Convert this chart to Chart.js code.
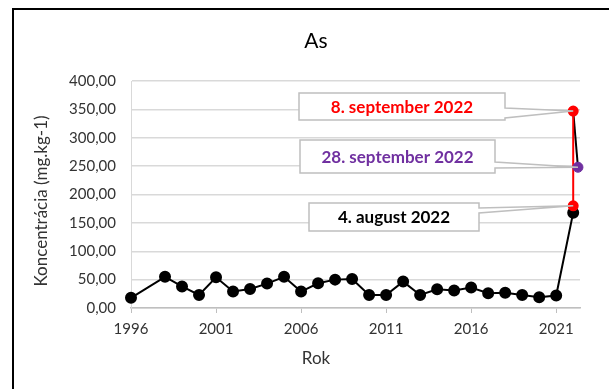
<!DOCTYPE html>
<html>
<head>
<meta charset="utf-8">
<script src="https://cdn.jsdelivr.net/npm/chart.js@4/dist/chart.umd.min.js"></script>
<style>
  html, body { margin: 0; padding: 0; background: #fff; }
  canvas { display: block; }
</style>
</head>
<body>
<canvas id="c" width="609" height="389"></canvas>
<script>
// Yearly arsenic concentration (mg.kg-1)
const years = [1996, 1998, 1999, 2000, 2001, 2002, 2003, 2004, 2005, 2006, 2007, 2008, 2009,
               2010, 2011, 2012, 2013, 2014, 2015, 2016, 2017, 2018, 2019, 2020, 2021, 2022];
const concentration = [18, 55, 38, 23, 54, 29, 33.5, 43, 55, 29, 43.5, 50, 51,
                       23, 23, 46.5, 23, 33, 31, 36, 26, 27, 23, 19, 22, 168];

// 2022 sampling campaign
const augustX = 2022, augustValue = 180;          // 4. august 2022
const sept8X = 2022, sept8Value = 347;            // 8. september 2022
const sept28X = 2022.28, sept28Value = 248;       // 28. september 2022

const xTicks = [1996, 2001, 2006, 2011, 2016, 2021];
const yTicks = [0, 50, 100, 150, 200, 250, 300, 350, 400];

const FONT = 'Lato, "Open Sans", sans-serif';

const points = years.map((y, i) => ({ x: y, y: concentration[i] }));

// Frame, titles and callout labels
const decor = {
  id: 'decor',
  beforeDraw(chart) {
    const ctx = chart.ctx;
    ctx.save();
    ctx.fillStyle = '#fff';
    ctx.fillRect(0, 0, chart.width, chart.height);
    ctx.strokeStyle = '#000';
    ctx.lineWidth = 2;
    ctx.beginPath();
    ctx.moveTo(13, chart.height);
    ctx.lineTo(13, 9);
    ctx.lineTo(chart.width, 9);
    ctx.stroke();

    ctx.fillStyle = '#000';
    ctx.textAlign = 'center';
    ctx.textBaseline = 'alphabetic';
    ctx.font = '21px ' + FONT;
    ctx.fillText('As', 316, 48);

    ctx.fillStyle = '#333';
    ctx.font = '17px ' + FONT;
    ctx.fillText('Rok', 316, 364);

    ctx.translate(47, 201);
    ctx.rotate(-Math.PI / 2);
    ctx.fillText('Koncentrácia (mg.kg-1)', 0, 0);
    ctx.restore();
  },
  afterDatasetsDraw(chart, args, opts) {
    const ctx = chart.ctx;
    const xs = chart.scales.x, ys = chart.scales.y;
    ctx.save();
    opts.items.forEach(it => {
      const tx = xs.getPixelForValue(it.x);
      const ty = ys.getPixelForValue(it.y);
      const b = it.box;
      const r = b.x + b.w, btm = b.y + b.h;
      ctx.beginPath();
      ctx.moveTo(b.x, b.y);
      ctx.lineTo(r, b.y);
      ctx.lineTo(r, it.w1);
      ctx.lineTo(tx, ty);
      ctx.lineTo(r, it.w2);
      ctx.lineTo(r, btm);
      ctx.lineTo(b.x, btm);
      ctx.closePath();
      ctx.fillStyle = '#fff';
      ctx.fill();
      ctx.strokeStyle = '#bfbfbf';
      ctx.lineWidth = 1.5;
      ctx.stroke();
      ctx.fillStyle = it.color;
      ctx.font = 'bold 17px ' + FONT;
      ctx.textAlign = 'center';
      ctx.textBaseline = 'middle';
      ctx.fillText(it.text, b.x + b.w / 2, b.y + b.h / 2 + 1);
    });
    ctx.restore();
  }
};

new Chart(document.getElementById('c'), {
  type: 'line',
  data: {
    datasets: [
      {
        data: [{ x: sept28X, y: sept28Value }],
        showLine: false,
        pointRadius: 5,
        pointBackgroundColor: '#7030a0',
        pointBorderColor: '#7030a0',
        clip: false
      },
      {
        data: [{ x: augustX, y: augustValue }, { x: sept8X, y: sept8Value }],
        borderColor: '#ff0000',
        borderWidth: 2,
        pointRadius: 4.5,
        pointBackgroundColor: '#ff0000',
        pointBorderColor: '#ff0000',
        clip: false
      },
      {
        data: [{ x: sept8X, y: sept8Value }, { x: sept28X, y: sept28Value }],
        borderColor: '#000',
        borderWidth: 2,
        pointRadius: 0,
        clip: false
      },
      {
        data: points,
        borderColor: '#000',
        borderWidth: 2,
        pointRadius: 5,
        pointBackgroundColor: '#000',
        pointBorderColor: '#000',
        clip: false
      }
    ]
  },
  options: {
    responsive: false,
    animation: false,
    layout: { padding: { left: 0, top: 81, right: 29, bottom: 0 } },
    plugins: {
      legend: { display: false },
      title: { display: false },
      tooltip: { enabled: false },
      decor: {
        items: [
          { text: '8. september 2022', color: '#ff0000', x: sept8X, y: sept8Value,
            box: { x: 299, y: 93, w: 206, h: 27 }, w1: 108, w2: 118 },
          { text: '28. september 2022', color: '#7030a0', x: sept28X, y: sept28Value,
            box: { x: 300, y: 140, w: 195, h: 33 }, w1: 162, w2: 168 },
          { text: '4. august 2022', color: '#000', x: augustX, y: augustValue,
            box: { x: 309, y: 203, w: 170, h: 28 }, w1: 208, w2: 213 }
        ]
      }
    },
    scales: {
      x: {
        type: 'linear',
        min: 1996,
        max: 2022.4,
        afterFit(s) { s.height = 81; },
        afterBuildTicks(s) { s.ticks = xTicks.map(v => ({ value: v })); },
        ticks: {
          autoSkip: false,
          maxRotation: 0,
          padding: 7,
          color: '#333',
          font: { family: FONT, size: 15 },
          callback: v => String(v)
        },
        grid: { drawOnChartArea: false, drawTicks: true, tickLength: 5, color: '#bfbfbf' },
        border: { display: true, color: '#bfbfbf', width: 1.5 }
      },
      y: {
        min: 0,
        max: 400,
        afterFit(s) { s.width = 131; },
        afterBuildTicks(s) { s.ticks = yTicks.map(v => ({ value: v })); },
        ticks: {
          padding: 15,
          color: '#333',
          font: { family: FONT, size: 15 },
          callback: v => v.toFixed(2).replace('.', ',')
        },
        grid: { drawTicks: false, color: '#d9d9d9', lineWidth: 1.5 },
        border: { display: true, color: '#d9d9d9' }
      }
    }
  },
  plugins: [decor]
});
</script>
</body>
</html>
